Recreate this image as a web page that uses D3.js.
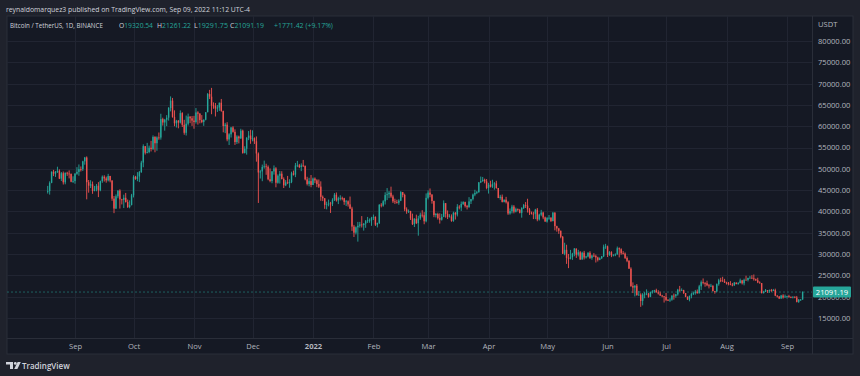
<!DOCTYPE html>
<html><head><meta charset="utf-8">
<script src="https://cdn.jsdelivr.net/npm/d3@7"></script>
<style>
html,body{margin:0;padding:0;background:#1f222c;}
svg{display:block;}
text{font-family:"Open Sans",sans-serif;}
</style></head><body>
<svg id="c" width="860" height="376"></svg>
<script>
// ---------- DATA (BTC/USDT daily, values in thousands of USDT) ----------
const startDate = "2021-08-18";
const firstOpenK = 44.70;
const closesK = [
 44.80,46.72,49.34,48.87,49.29,49.53,47.71,48.97,46.84,49.07,48.90,48.81,46.99,47.16,
 48.85,49.28,49.94,49.92,51.76,52.66,46.86,46.05,46.38,44.85,45.17,46.03,44.96,47.11,48.15,47.75,47.30,48.31,47.26,43.00,40.69,43.56,44.90,42.84,42.72,43.21,42.20,41.03,41.52,43.79,
 48.14,47.63,48.20,49.22,51.47,55.32,53.79,53.95,54.95,54.66,57.47,56.01,57.37,57.35,61.67,60.88,61.53,62.01,64.28,66.00,62.19,60.69,61.29,60.86,63.08,60.33,58.46,60.59,62.25,61.86,61.32,
 61.00,63.23,62.94,61.45,61.00,61.53,63.29,67.55,66.94,64.88,64.78,64.16,64.39,65.52,63.61,60.06,60.36,56.90,58.10,59.70,58.68,56.29,57.57,57.16,58.96,53.73,54.72,57.27,57.81,56.95,
 57.18,56.48,53.60,49.15,49.40,50.44,50.59,50.47,47.55,47.14,49.39,50.10,46.74,48.38,48.86,47.63,46.13,46.83,46.68,46.91,48.94,48.63,50.78,50.82,50.43,50.80,50.72,47.54,46.46,47.12,46.22,
 47.72,47.29,46.43,45.83,43.43,43.08,41.55,41.67,41.86,41.82,42.74,43.92,42.59,43.10,43.18,43.11,42.25,42.38,41.66,40.68,36.45,35.03,36.28,36.65,36.95,36.81,37.16,37.72,37.92,37.92,38.47,
 38.73,36.90,37.31,41.57,41.38,42.38,43.84,44.04,44.39,43.51,42.37,42.21,42.05,42.54,44.54,43.87,40.52,40.00,40.09,38.39,37.02,38.27,37.26,38.36,39.23,39.12,37.70,43.19,
 44.42,43.92,42.45,39.15,39.40,38.42,38.06,38.74,41.94,39.42,38.73,38.81,37.78,39.67,39.28,41.11,40.92,41.76,42.20,41.26,41.00,42.36,42.89,43.96,44.33,44.51,46.82,47.13,47.43,47.07,45.51,
 46.28,45.81,46.41,46.58,45.50,43.17,43.44,42.25,42.76,42.16,39.53,40.07,41.15,39.94,40.55,40.38,39.68,40.80,41.49,41.36,40.48,39.71,39.47,39.45,40.43,38.12,39.24,39.74,38.60,37.63,
 38.47,38.53,37.75,39.70,36.55,36.01,35.47,34.04,30.08,31.00,29.08,28.94,29.28,30.10,31.30,29.86,30.42,28.72,30.31,29.20,29.43,30.29,29.11,29.65,29.54,29.20,28.63,29.03,29.47,31.73,31.80,
 29.80,30.45,29.70,29.86,29.91,31.37,31.13,30.20,30.11,29.09,28.42,26.57,22.49,22.14,22.58,20.38,20.47,19.00,20.55,20.71,20.72,19.97,21.09,21.23,21.49,21.04,20.74,20.28,20.10,19.94,
 19.25,19.24,19.30,20.24,20.18,20.55,21.64,21.58,21.59,20.86,19.97,19.33,20.21,20.59,20.84,21.19,20.79,22.43,23.40,23.22,23.15,22.68,22.45,22.58,21.31,21.25,22.95,23.84,23.77,23.64,23.29,
 23.27,22.99,22.82,22.62,23.31,22.95,23.18,23.81,23.15,23.95,23.94,24.40,24.44,24.31,24.10,23.85,23.34,23.19,20.83,21.14,21.52,21.40,21.53,21.37,21.56,20.24,20.04,19.55,20.28,19.81,20.05,
 20.13,19.95,19.83,20.00,19.80,18.79,19.29,19.32054,21.09119
];
const highsK = [
 46.00,47.07,49.38,49.76,49.50,50.50,49.88,49.25,49.37,49.15,49.30,49.63,48.91,48.25,
 49.00,50.40,51.03,50.56,51.90,52.80,52.92,47.38,47.34,47.03,45.99,46.45,46.88,47.25,48.45,48.49,48.17,48.83,48.36,47.32,43.63,44.00,44.97,45.20,42.97,43.94,44.35,42.79,42.60,44.13,
 48.50,48.36,49.23,49.50,51.89,55.75,55.34,56.10,55.45,56.56,57.84,57.68,57.63,58.53,62.93,62.00,61.72,62.60,64.49,67.00,66.64,63.73,61.49,61.45,63.71,63.29,61.50,62.50,62.96,62.36,62.40,
 62.44,64.27,63.52,63.09,62.61,61.60,63.29,67.79,68.53,69.00,65.60,65.46,64.97,65.55,66.40,63.62,60.80,60.95,58.37,59.85,60.00,59.27,57.88,57.80,59.40,59.20,55.30,57.45,58.87,59.18,
 59.04,57.38,57.60,53.86,49.70,51.00,51.93,51.20,50.80,50.10,49.49,50.80,50.40,48.70,49.50,49.44,48.00,47.36,48.34,47.55,49.33,49.58,51.38,51.87,51.16,51.28,52.09,50.75,48.14,47.90,48.55,
 47.95,47.99,47.57,47.51,47.07,43.75,43.15,42.30,42.79,42.25,43.10,44.32,44.46,43.45,43.80,43.48,43.20,42.70,42.60,43.50,41.10,36.84,36.50,37.55,37.55,38.92,37.23,38.00,38.72,38.36,38.74,
 39.27,38.85,37.37,41.72,41.95,42.65,44.50,45.49,44.79,45.82,43.92,42.99,42.75,42.87,44.77,44.58,44.17,40.96,40.46,40.15,39.49,38.43,39.25,38.97,39.73,40.30,39.85,44.23,
 44.95,45.40,44.10,42.53,39.65,39.70,39.56,39.43,42.59,41.97,40.24,39.36,39.31,39.95,39.88,41.72,41.47,42.33,42.40,42.30,41.54,43.36,42.95,44.20,45.09,44.80,46.92,48.19,48.10,47.70,47.60,
 46.72,47.21,47.44,46.89,47.20,45.51,43.90,43.97,42.80,43.43,42.41,40.70,41.56,41.50,40.89,40.71,40.60,41.00,41.76,42.20,42.98,40.79,39.98,39.93,40.61,40.80,39.47,40.37,39.93,38.80,
 38.68,39.17,38.65,39.90,39.84,36.65,36.15,35.51,34.24,32.66,32.19,30.03,30.98,30.30,31.41,31.30,31.00,30.70,30.55,30.75,29.61,30.45,30.66,29.84,30.22,29.87,29.38,29.23,29.56,32.22,32.40,
 31.98,30.69,30.67,29.94,30.17,31.77,31.56,31.35,30.70,30.38,29.46,28.56,26.90,23.36,22.71,22.98,21.36,20.80,20.83,21.06,21.72,20.85,21.21,21.55,21.60,21.87,21.52,21.19,20.43,20.14,
 20.88,19.44,19.65,20.35,20.73,20.67,21.84,22.53,21.95,21.60,20.87,20.06,20.25,20.89,21.20,21.59,21.69,22.78,23.80,24.28,23.42,23.76,22.99,23.01,22.65,21.35,23.11,24.20,24.44,24.67,24.19,
 23.50,23.45,23.65,23.22,23.46,23.35,23.40,24.24,23.94,24.23,24.92,24.45,24.89,25.05,25.21,24.25,24.45,23.60,23.19,21.38,21.80,21.52,21.67,21.82,21.82,21.88,20.35,20.14,20.43,20.58,20.49,
 20.20,20.44,20.06,20.06,20.05,20.18,19.46,19.46,21.26122
];
const lowsK = [
 44.20,43.95,46.63,48.29,48.10,49.03,47.60,47.14,46.32,46.37,48.35,47.76,46.86,46.70,
 46.51,48.60,48.38,49.38,49.50,50.97,42.84,44.41,45.50,44.14,44.73,44.74,43.37,44.75,46.72,47.02,46.75,47.05,46.84,42.50,39.60,40.57,43.09,40.68,41.65,40.80,42.10,40.83,40.75,41.41,
 43.29,47.43,47.10,46.89,49.06,50.38,53.36,53.62,53.67,54.08,54.42,53.88,54.25,56.82,56.85,60.15,58.96,60.02,61.32,63.48,62.00,60.00,59.70,59.51,60.65,59.82,58.00,57.82,60.17,60.72,60.07,
 59.41,60.62,60.38,60.68,60.72,60.09,61.38,63.28,66.38,62.82,64.10,62.28,63.36,63.60,63.40,58.57,58.38,56.47,55.60,57.35,58.49,55.61,55.84,55.97,57.00,53.55,53.61,53.33,56.73,55.88,
 56.46,55.84,51.68,42.00,47.73,47.10,50.04,48.60,47.32,46.85,46.62,48.64,45.67,46.52,46.55,47.52,45.50,45.94,46.41,45.56,46.64,48.43,48.05,50.40,50.17,49.46,50.45,47.31,46.10,45.90,45.68,
 46.21,46.65,45.70,45.50,42.50,42.43,40.61,40.50,41.20,39.65,41.27,42.45,42.31,41.73,42.58,42.61,41.55,41.26,41.14,40.57,35.44,34.01,34.60,32.92,36.20,36.24,35.51,36.16,37.31,37.35,36.63,
 38.00,36.59,36.25,37.05,40.96,41.12,41.63,42.67,43.12,43.19,42.00,41.74,41.85,41.57,42.43,43.31,40.07,39.45,39.64,38.00,36.81,36.35,37.04,34.32,38.02,38.60,37.00,37.45,
 42.82,43.33,41.83,38.65,38.60,38.09,37.16,37.86,38.66,38.54,38.22,38.66,37.58,37.58,38.10,38.83,40.50,40.13,41.52,40.92,40.47,40.89,41.75,42.57,43.58,44.07,44.42,46.66,46.95,46.60,45.20,
 44.20,45.63,45.52,45.12,45.35,43.12,42.73,42.11,42.12,41.87,39.20,39.25,39.55,39.55,39.77,40.01,39.55,38.54,40.57,40.82,39.75,39.18,39.29,38.20,38.20,37.70,37.87,38.88,38.18,37.58,
 37.39,38.05,37.51,37.67,35.57,35.26,34.75,33.71,30.03,29.73,27.70,26.70,28.75,28.63,29.48,29.09,29.45,28.65,28.70,28.73,28.95,29.23,28.85,28.67,29.29,28.02,28.26,28.57,28.84,29.30,31.22,
 29.30,29.59,29.28,29.45,29.51,29.88,29.22,29.84,29.90,28.85,28.10,26.56,22.30,20.85,20.07,20.23,20.25,17.62,17.96,19.63,20.35,19.77,19.89,20.74,20.89,20.97,20.51,20.18,19.85,18.63,
 18.97,18.98,18.78,19.05,19.30,19.76,20.24,21.19,21.31,20.65,19.89,19.24,18.91,19.62,20.38,20.48,20.75,20.77,21.58,22.90,22.34,22.46,21.94,22.26,21.25,20.71,21.04,22.58,23.41,23.50,23.23,
 22.85,22.66,22.68,22.43,22.59,22.93,22.84,23.15,22.86,22.66,23.86,23.58,24.30,24.20,23.77,23.68,23.18,23.07,20.78,20.76,21.10,20.89,20.89,21.14,21.31,20.12,19.80,19.52,19.55,19.54,19.80,
 19.56,19.75,19.66,19.60,19.64,18.66,18.54,19.03,19.29175
];
const priceTicks = [15000,20000,25000,30000,35000,40000,45000,50000,55000,60000,65000,70000,75000,80000];
const monthTickDates = ["2021-09-01","2021-10-01","2021-11-01","2021-12-01","2022-01-01","2022-02-01","2022-03-01","2022-04-01","2022-05-01","2022-06-01","2022-07-01","2022-08-01","2022-09-01"];
const monthLabels = ["Sep","Oct","Nov","Dec","2022","Feb","Mar","Apr","May","Jun","Jul","Aug","Sep"];
const headerText = "reynaldomarquez3 published on TradingView.com, Sep 09, 2022 11:12 UTC-4";
const symbolText = "Bitcoin / TetherUS, 1D, BINANCE";
const ohlcLetters = ["O","H","L","C"];
const ohlcValues = ["19320.54","21261.22","19291.75","21091.19"];
const changeText = "+1771.42 (+9.17%)";
const lastPrice = 21091.19;
const currencyLabel = "USDT";

// ---------- LAYOUT ----------
const W = 860, H = 376;
const P = {left: 7, right: 812, top: 16, bottom: 338, axisRight: 853, axisBottom: 354};
const UP = "#26a69a", DOWN = "#ef5350";
const TXT = "#b2b5be";
const LEG_FONT = '"Open Sans",sans-serif';

// scale a text's font-size so that it spans the width seen in the reference
function fitWidth(sel, base, target) {
  sel.style("font-size", base + "px");
  const w = sel.node().getComputedTextLength();
  const fs = w > 0 ? base * target / w : base;
  sel.style("font-size", fs.toFixed(2) + "px");
  return fs;
}

const svg = d3.select("#c");
const days = closesK.map((c, i) => {
  const d = d3.utcDay.offset(new Date(startDate + "T00:00:00Z"), i);
  const o = i === 0 ? firstOpenK : closesK[i - 1];
  return {date: d, o: o * 1000, h: highsK[i] * 1000, l: lowsK[i] * 1000, c: c * 1000};
});

const x = d3.scaleUtc()
  .domain([new Date("2021-09-01T00:00:00Z"), new Date("2022-09-01T00:00:00Z")])
  .range([75, 787]);
const y = d3.scaleLinear().domain([15000, 80000]).range([318, 41]);

// background
svg.append("rect").attr("width", W).attr("height", H).attr("fill", "#1f222c");
svg.append("rect").attr("x", P.left).attr("y", P.top)
  .attr("width", P.axisRight - P.left).attr("height", P.axisBottom - P.top)
  .attr("fill", "#151924").attr("stroke", "#2a2e39").attr("stroke-width", 1);

// grid
const monthDates = monthTickDates.map(s => new Date(s + "T00:00:00Z"));
svg.append("g").selectAll("line").data(monthDates).join("line")
  .attr("x1", d => Math.round(x(d)) + 0.5).attr("x2", d => Math.round(x(d)) + 0.5)
  .attr("y1", P.top).attr("y2", P.bottom)
  .attr("stroke", "#212532").attr("stroke-width", 1);
svg.append("g").selectAll("line").data(priceTicks).join("line")
  .attr("x1", P.left).attr("x2", P.right)
  .attr("y1", d => Math.round(y(d)) + 0.5).attr("y2", d => Math.round(y(d)) + 0.5)
  .attr("stroke", "#212532").attr("stroke-width", 1);

// separators
svg.append("line").attr("x1", P.right + 0.5).attr("x2", P.right + 0.5)
  .attr("y1", P.top).attr("y2", P.axisBottom).attr("stroke", "#2a2e39");
svg.append("line").attr("x1", P.left).attr("x2", P.axisRight)
  .attr("y1", P.bottom + 0.5).attr("y2", P.bottom + 0.5).attr("stroke", "#2a2e39");

// clip
svg.append("clipPath").attr("id", "plotclip").append("rect")
  .attr("x", P.left).attr("y", P.top).attr("width", P.right - P.left).attr("height", P.bottom - P.top);

// last price dashed line
svg.append("line").attr("x1", P.left).attr("x2", P.right)
  .attr("y1", y(lastPrice)).attr("y2", y(lastPrice))
  .attr("stroke", UP).attr("stroke-opacity", 0.5).attr("stroke-dasharray", "2,2");

// candles
const cg = svg.append("g").attr("clip-path", "url(#plotclip)");
const bw = 1.4;
const candle = cg.selectAll("g.c").data(days).join("g").attr("class", "c");
candle.append("line")
  .attr("x1", d => x(d.date)).attr("x2", d => x(d.date))
  .attr("y1", d => y(Math.max(d.h, d.o, d.c))).attr("y2", d => y(Math.min(d.l, d.o, d.c)))
  .attr("stroke", d => d.c >= d.o ? UP : DOWN).attr("stroke-width", 0.9);
candle.append("rect")
  .attr("x", d => x(d.date) - bw / 2).attr("width", bw)
  .attr("y", d => y(Math.max(d.o, d.c)))
  .attr("height", d => Math.max(0.8, Math.abs(y(d.o) - y(d.c))))
  .attr("fill", d => d.c >= d.o ? UP : DOWN);

// price axis
const yAxis = d3.axisRight(y).tickValues(priceTicks).tickFormat(d => d.toFixed(2))
  .tickSize(0).tickPadding(6);
const gy = svg.append("g").attr("transform", `translate(${P.right},0)`).call(yAxis);
gy.select(".domain").remove();
gy.selectAll("text").attr("fill", TXT).style("font-size", "7.6px").style("font-family", '"Open Sans",sans-serif');

svg.append("text").attr("x", P.right + 6).attr("y", 27).text(currencyLabel)
  .attr("fill", TXT).style("font-size", "7.6px");

// time axis
const xAxis = d3.axisBottom(x).tickValues(monthDates)
  .tickFormat((d, i) => monthLabels[i]).tickSize(0).tickPadding(6);
const gx = svg.append("g").attr("transform", `translate(0,${P.bottom})`).call(xAxis);
gx.select(".domain").remove();
gx.selectAll("text").attr("fill", TXT).style("font-size", "7.6px").style("font-family", '"Open Sans",sans-serif')
  .style("font-weight", (d, i) => monthLabels[i] === "2022" ? 700 : 400);

// last price label
const ly = y(lastPrice);
svg.append("rect").attr("x", P.right + 1).attr("y", ly - 5.5).attr("width", 38).attr("height", 11)
  .attr("rx", 1).attr("fill", UP);
svg.append("text").attr("x", P.right + 20).attr("y", ly + 2.7).attr("text-anchor", "middle")
  .text(lastPrice.toFixed(2)).attr("fill", "#ffffff").style("font-size", "7.6px");

// header
fitWidth(svg.append("text").attr("x", 6).attr("y", 12).text(headerText)
  .attr("fill", "#d1d4dc").style("font-family", LEG_FONT), 8, 244);

// legend
fitWidth(svg.append("text").attr("x", 10).attr("y", 28).text(symbolText)
  .attr("fill", "#d1d4dc").style("font-family", LEG_FONT), 7, 93);
const legendX = [119, 157, 194, 230];
let legFs = 7;
ohlcLetters.forEach((L, i) => {
  const t = svg.append("text").attr("x", legendX[i]).attr("y", 28).style("font-family", LEG_FONT);
  t.append("tspan").attr("fill", "#d1d4dc").text(L);
  t.append("tspan").attr("fill", UP).text(ohlcValues[i]);
  legFs = fitWidth(t, 7, 34);
});
svg.append("text").attr("x", 274).attr("y", 28).text(changeText)
  .attr("fill", UP).style("font-family", LEG_FONT).style("font-size", legFs.toFixed(2) + "px");

// TradingView logo
const logo = svg.append("g").attr("fill", "#d1d4dc");
logo.append("path").attr("d", "M6,362 h7 v7 h-3 v-4.4 h-4 z");
logo.append("circle").attr("cx", 15.3).attr("cy", 363.4).attr("r", 1.4);
logo.append("path").attr("d", "M17.6,362 h3.2 l-3.4,7 h-3.2 z");
svg.append("text").attr("x", 22).attr("y", 369).text("TradingView")
  .attr("fill", "#d1d4dc").style("font-size", "8px").style("font-weight", 600).style("font-family", LEG_FONT);
</script>
</body></html>
